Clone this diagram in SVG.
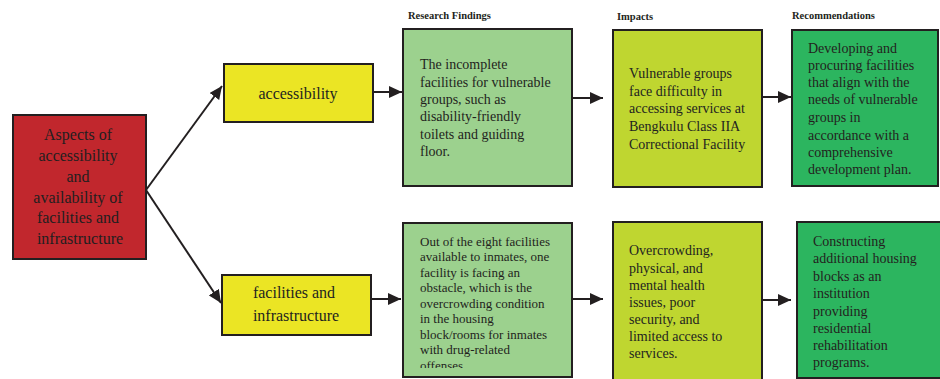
<svg xmlns="http://www.w3.org/2000/svg" width="940" height="379" viewBox="0 0 940 379">
<style>
.box{stroke:#231f20;stroke-width:2}
.t{font-family:"Liberation Serif","Times New Roman",serif;fill:#231f20}
.h{font-family:"Liberation Serif","Times New Roman",serif;font-weight:bold;font-size:10.5px;fill:#231f20}
.c{stroke:#231f20;stroke-width:2;fill:none}
</style>
<defs>
<marker id="ah" markerUnits="userSpaceOnUse" markerWidth="14" markerHeight="12" refX="13" refY="6" orient="auto">
<path d="M0,0 L13,6 L0,12 Z" fill="#231f20"/>
</marker>
<clipPath id="clipF2"><rect x="403" y="223" width="170" height="145"/></clipPath>
</defs>
<rect width="940" height="379" fill="#ffffff"/>

<text class="h" x="408" y="19">Research Findings</text>
<text class="h" x="617" y="20">Impacts</text>
<text class="h" x="792" y="19">Recommendations</text>

<g id="aspects">
<rect class="box" x="13" y="115" width="133" height="144" fill="#c1272d"/>
<text class="t" font-size="16" text-anchor="middle">
<tspan x="80" y="140">Aspects of</tspan>
<tspan x="80" y="161">accessibility</tspan>
<tspan x="80" y="182">and</tspan>
<tspan x="80" y="203">availability of</tspan>
<tspan x="80" y="223">facilities and</tspan>
<tspan x="80" y="244">infrastructure</tspan>
</text>
</g>

<g id="accessibility">
<rect class="box" x="224" y="64" width="149" height="58" fill="#ebe524"/>
<text class="t" font-size="16" text-anchor="middle" x="298" y="99">accessibility</text>
</g>

<g id="facilities">
<rect class="box" x="222" y="275" width="149" height="60" fill="#ebe524"/>
<text class="t" font-size="16" text-anchor="middle">
<tspan x="296" y="298">facilities and</tspan>
<tspan x="296" y="321">infrastructure</tspan>
</text>
</g>

<g id="finding1">
<rect class="box" x="403" y="29" width="169" height="157" fill="#9cd18e"/>
<text class="t" font-size="14">
<tspan x="420" y="69">The incomplete</tspan>
<tspan x="420" y="87">facilities for vulnerable</tspan>
<tspan x="420" y="104">groups, such as</tspan>
<tspan x="420" y="121">disability-friendly</tspan>
<tspan x="420" y="139">toilets and guiding</tspan>
<tspan x="420" y="156">floor.</tspan>
</text>
</g>

<g id="finding2">
<rect class="box" x="403" y="223" width="169" height="154" fill="#9cd18e"/>
<text class="t" font-size="13" clip-path="url(#clipF2)">
<tspan x="420" y="245.5">Out of the eight facilities</tspan>
<tspan x="420" y="261">available to inmates, one</tspan>
<tspan x="420" y="276.5">facility is facing an</tspan>
<tspan x="420" y="292">obstacle, which is the</tspan>
<tspan x="420" y="307.5">overcrowding condition</tspan>
<tspan x="420" y="323">in the housing</tspan>
<tspan x="420" y="338.5">block/rooms for inmates</tspan>
<tspan x="420" y="354">with drug-related</tspan>
<tspan x="420" y="369.5">offenses.</tspan>
</text>
</g>

<g id="impact1">
<rect class="box" x="613" y="30" width="149" height="157" fill="#bfd630"/>
<text class="t" font-size="14">
<tspan x="629" y="78">Vulnerable groups</tspan>
<tspan x="629" y="96">face difficulty in</tspan>
<tspan x="629" y="113">accessing services at</tspan>
<tspan x="629" y="131">Bengkulu Class IIA</tspan>
<tspan x="629" y="149">Correctional Facility</tspan>
</text>
</g>

<g id="impact2">
<rect class="box" x="613" y="222" width="149" height="160" fill="#bfd630"/>
<text class="t" font-size="14">
<tspan x="629" y="255">Overcrowding,</tspan>
<tspan x="629" y="273">physical, and</tspan>
<tspan x="629" y="290">mental health</tspan>
<tspan x="629" y="307">issues, poor</tspan>
<tspan x="629" y="324">security, and</tspan>
<tspan x="629" y="341">limited access to</tspan>
<tspan x="629" y="358">services.</tspan>
</text>
</g>

<g id="rec1">
<rect class="box" x="792" y="30" width="146" height="156" fill="#2cb55f" stroke-width="2.5"/>
<text class="t" font-size="14">
<tspan x="808" y="53">Developing and</tspan>
<tspan x="808" y="70">procuring facilities</tspan>
<tspan x="808" y="87">that align with the</tspan>
<tspan x="808" y="104">needs of vulnerable</tspan>
<tspan x="808" y="122">groups in</tspan>
<tspan x="808" y="140">accordance with a</tspan>
<tspan x="808" y="157">comprehensive</tspan>
<tspan x="808" y="174">development plan.</tspan>
</text>
</g>

<g id="rec2">
<rect class="box" x="797" y="222" width="146" height="156" fill="#2cb55f" stroke-width="2.5"/>
<text class="t" font-size="14">
<tspan x="813" y="246">Constructing</tspan>
<tspan x="813" y="263">additional housing</tspan>
<tspan x="813" y="281">blocks as an</tspan>
<tspan x="813" y="298">institution</tspan>
<tspan x="813" y="316">providing</tspan>
<tspan x="813" y="333">residential</tspan>
<tspan x="813" y="350">rehabilitation</tspan>
<tspan x="813" y="367">programs.</tspan>
</text>
</g>

<g id="connectors">
<line class="c" x1="146" y1="190" x2="222" y2="86" marker-end="url(#ah)"/>
<line class="c" x1="146" y1="190" x2="221" y2="303" marker-end="url(#ah)"/>
<line class="c" x1="373" y1="92" x2="402" y2="92" marker-end="url(#ah)"/>
<line class="c" x1="371" y1="299" x2="401" y2="299" marker-end="url(#ah)"/>
<line class="c" x1="572" y1="98" x2="603" y2="98" marker-end="url(#ah)"/>
<line class="c" x1="572" y1="299" x2="603" y2="299" marker-end="url(#ah)"/>
<line class="c" x1="762" y1="97" x2="791" y2="97" marker-end="url(#ah)"/>
<line class="c" x1="762" y1="300" x2="791" y2="300" marker-end="url(#ah)"/>
</g>
</svg>
